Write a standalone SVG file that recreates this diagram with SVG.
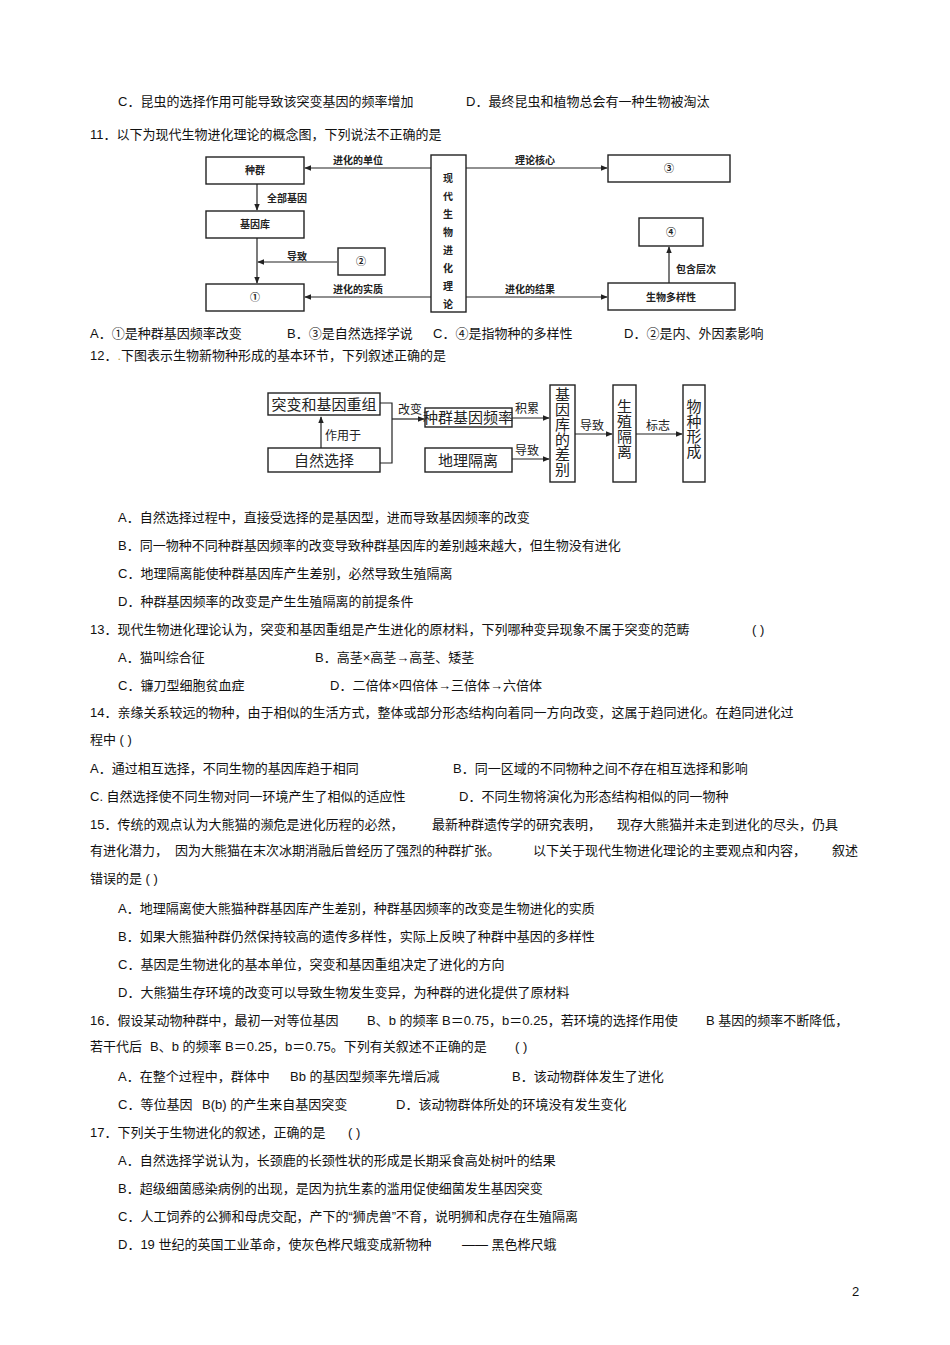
<svg xmlns="http://www.w3.org/2000/svg" width="950" height="1345" viewBox="0 0 950 1345">
<defs>
<marker id="ar" viewBox="0 0 10 10" refX="9" refY="5" markerWidth="6" markerHeight="6" orient="auto"><path d="M0,1 L10,5 L0,9 z" fill="#222"/></marker>
<style>
.t{font-family:"Liberation Sans","Noto Sans CJK SC",sans-serif;font-size:13px;fill:#111}
.b{fill:#fff;stroke:#222;stroke-width:1.4}
.l1{font-family:"Noto Sans CJK SC",sans-serif;font-size:10px;font-weight:bold;fill:#222}
.l2{font-family:"Liberation Serif","Noto Sans CJK SC",serif;font-size:15px;fill:#222}
.s2{font-family:"Liberation Serif","Noto Sans CJK SC",serif;font-size:12px;fill:#222}
.c{fill:none;stroke:#222;stroke-width:1.2}
</style>
</defs>
<rect width="950" height="1345" fill="#fff"/>
<g class="t">
<text x="118" y="106">C．昆虫的选择作用可能导致该突变基因的频率增加</text><text x="466" y="106">D．最终昆虫和植物总会有一种生物被淘汰</text>
<text x="90" y="139">11．以下为现代生物进化理论的概念图，下列说法不正确的是</text>
<text x="90" y="338">A．①是种群基因频率改变</text><text x="287" y="338">B．③是自然选择学说</text><text x="433" y="338">C．④是指物种的多样性</text><text x="624" y="338">D．②是内、外因素影响</text>
<text x="90" y="360">12．<tspan fill="#c9a13a">.</tspan>下图表示生物新物种形成的基本环节，下列叙述正确的是</text>
<text x="118" y="522">A．自然选择过程中，直接受选择的是基因型，进而导致基因频率的改变</text>
<text x="118" y="550">B．同一物种不同种群基因频率的改变导致种群基因库的差别越来越大，但生物没有进化</text>
<text x="118" y="578">C．地理隔离能使种群基因库产生差别，必然导致生殖隔离</text>
<text x="118" y="606">D．种群基因频率的改变是产生生殖隔离的前提条件</text>
<text x="90" y="634">13．现代生物进化理论认为，突变和基因重组是产生进化的原材料，下列哪种变异现象不属于突变的范畴</text><text x="752" y="634">(      )</text>
<text x="118" y="662">A．猫叫综合征</text><text x="315" y="662">B．高茎×高茎→高茎、矮茎</text>
<text x="118" y="690">C．镰刀型细胞贫血症</text><text x="330" y="690">D．二倍体×四倍体→三倍体→六倍体</text>
<text x="90" y="717">14．亲缘关系较远的物种，由于相似的生活方式，整体或部分形态结构向着同一方向改变，这属于趋同进化。在趋同进化过</text>
<text x="90" y="744">程中 (      )</text>
<text x="90" y="773">A．通过相互选择，不同生物的基因库趋于相同</text><text x="453" y="773">B．同一区域的不同物种之间不存在相互选择和影响</text>
<text x="90" y="801">C. 自然选择使不同生物对同一环境产生了相似的适应性</text><text x="459" y="801">D．不同生物将演化为形态结构相似的同一物种</text>
<text x="90" y="829">15．传统的观点认为大熊猫的濒危是进化历程的必然，</text><text x="432" y="829">最新种群遗传学的研究表明，</text><text x="617" y="829">现存大熊猫并未走到进化的尽头，仍具</text>
<text x="90" y="855">有进化潜力，</text><text x="175" y="855">因为大熊猫在末次冰期消融后曾经历了强烈的种群扩张。</text><text x="533" y="855">以下关于现代生物进化理论的主要观点和内容，</text><text x="832" y="855">叙述</text>
<text x="90" y="883">错误的是 (      )</text>
<text x="118" y="913">A．地理隔离使大熊猫种群基因库产生差别，种群基因频率的改变是生物进化的实质</text>
<text x="118" y="941">B．如果大熊猫种群仍然保持较高的遗传多样性，实际上反映了种群中基因的多样性</text>
<text x="118" y="969">C．基因是生物进化的基本单位，突变和基因重组决定了进化的方向</text>
<text x="118" y="997">D．大熊猫生存环境的改变可以导致生物发生变异，为种群的进化提供了原材料</text>
<text x="90" y="1025">16．假设某动物种群中，最初一对等位基因</text><text x="367" y="1025">B、b 的频率 B＝0.75，b＝0.25，若环境的选择作用使</text><text x="706" y="1025">B 基因的频率不断降低，</text>
<text x="90" y="1051">若干代后</text><text x="150" y="1051">B、b 的频率 B＝0.25，b＝0.75。下列有关叙述不正确的是</text><text x="515" y="1051">(      )</text>
<text x="118" y="1081">A．在整个过程中，群体中</text><text x="290" y="1081">Bb 的基因型频率先增后减</text><text x="512" y="1081">B．该动物群体发生了进化</text>
<text x="118" y="1109">C．等位基因</text><text x="202" y="1109">B(b) 的产生来自基因突变</text><text x="396" y="1109">D．该动物群体所处的环境没有发生变化</text>
<text x="90" y="1137">17．下列关于生物进化的叙述，正确的是</text><text x="348" y="1137">(      )</text>
<text x="118" y="1165">A．自然选择学说认为，长颈鹿的长颈性状的形成是长期采食高处树叶的结果</text>
<text x="118" y="1193">B．超级细菌感染病例的出现，是因为抗生素的滥用促使细菌发生基因突变</text>
<text x="118" y="1221">C．人工饲养的公狮和母虎交配，产下的“狮虎兽”不育，说明狮和虎存在生殖隔离</text>
<text x="118" y="1249">D．19 世纪的英国工业革命，使灰色桦尺蛾变成新物种</text><text x="462" y="1249">—— 黑色桦尺蛾</text>
<text x="852" y="1296">2</text>
</g>
<!-- Diagram 1 -->
<g id="d1-connectors" class="c">
<line x1="431" y1="168" x2="305" y2="168" marker-end="url(#ar)"/>
<line x1="466" y1="168" x2="607" y2="168" marker-end="url(#ar)"/>
<line x1="431" y1="297" x2="305" y2="297" marker-end="url(#ar)"/>
<line x1="466" y1="297" x2="607" y2="297" marker-end="url(#ar)"/>
<line x1="257" y1="184" x2="257" y2="210" marker-end="url(#ar)"/>
<line x1="257" y1="238" x2="257" y2="283" marker-end="url(#ar)"/>
<line x1="337" y1="262" x2="258" y2="262" marker-end="url(#ar)"/>
<line x1="669" y1="283" x2="669" y2="247" marker-end="url(#ar)"/>
</g>
<g class="l1">
<text x="333" y="164">进化的单位</text><text x="515" y="164">理论核心</text>
<text x="333" y="293">进化的实质</text><text x="505" y="293">进化的结果</text>
<text x="267" y="202">全部基因</text><text x="287" y="260">导致</text><text x="676" y="273">包含层次</text>
</g>
<g id="n-zq"><rect class="b" x="206" y="157" width="98" height="27"/><text class="l1" x="255" y="174" text-anchor="middle">种群</text></g>
<g id="n-jyk"><rect class="b" x="206" y="211" width="98" height="27"/><text class="l1" x="255" y="228" text-anchor="middle">基因库</text></g>
<g id="n-1"><rect class="b" x="206" y="284" width="98" height="27"/><text class="l1" x="255" y="301" text-anchor="middle">①</text></g>
<g id="n-2"><rect class="b" x="338" y="248" width="47" height="27"/><text class="l1" x="361" y="265" text-anchor="middle">②</text></g>
<g id="n-center"><rect class="b" x="431" y="155" width="35" height="157"/>
<text class="l1" x="448" text-anchor="middle"><tspan x="448" y="182">现</tspan><tspan x="448" y="200">代</tspan><tspan x="448" y="218">生</tspan><tspan x="448" y="236">物</tspan><tspan x="448" y="254">进</tspan><tspan x="448" y="272">化</tspan><tspan x="448" y="290">理</tspan><tspan x="448" y="308">论</tspan></text></g>
<g id="n-3"><rect class="b" x="608" y="155" width="122" height="27"/><text class="l1" x="669" y="172" text-anchor="middle">③</text></g>
<g id="n-4"><rect class="b" x="639" y="218" width="64" height="28"/><text class="l1" x="671" y="236" text-anchor="middle">④</text></g>
<g id="n-dyx"><rect class="b" x="608" y="283" width="127" height="27"/><text class="l1" x="671" y="301" text-anchor="middle">生物多样性</text></g>
<!-- Diagram 2 -->
<g id="d2-connectors" class="c">
<line x1="321" y1="448" x2="321" y2="417" marker-end="url(#ar)"/>
<polyline points="380,403 392,403 392,463 380,463"/>
<line x1="392" y1="419" x2="424" y2="419" marker-end="url(#ar)"/>
<line x1="512" y1="418" x2="549" y2="418" marker-end="url(#ar)"/>
<line x1="512" y1="459" x2="549" y2="459" marker-end="url(#ar)"/>
<line x1="575" y1="434" x2="612" y2="434" marker-end="url(#ar)"/>
<line x1="632" y1="434" x2="682" y2="434" marker-end="url(#ar)"/>
</g>
<g class="s2"><text x="325" y="440">作用于</text><text x="398" y="414">改变</text><text x="515" y="413">积累</text><text x="515" y="455">导致</text><text x="580" y="430">导致</text><text x="646" y="430">标志</text></g>
<g id="m-tb"><rect class="b" x="268" y="393" width="112" height="22"/><text class="l2" x="324" y="410" text-anchor="middle">突变和基因重组</text></g>
<g id="m-zr"><rect class="b" x="268" y="448" width="112" height="24"/><text class="l2" x="324" y="466" text-anchor="middle">自然选择</text></g>
<g id="m-pl"><rect class="b" x="425" y="408" width="87" height="19"/><text class="l2" x="468" y="423" text-anchor="middle">种群基因频率</text></g>
<g id="m-dl"><rect class="b" x="425" y="448" width="87" height="24"/><text class="l2" x="468" y="466" text-anchor="middle">地理隔离</text></g>
<g id="m-cb"><rect class="b" x="550" y="385" width="25" height="97"/><text class="l2" x="562.5" text-anchor="middle"><tspan x="562.5" y="400">基</tspan><tspan x="562.5" y="415">因</tspan><tspan x="562.5" y="430">库</tspan><tspan x="562.5" y="445">的</tspan><tspan x="562.5" y="460">差</tspan><tspan x="562.5" y="475">别</tspan></text></g>
<g id="m-sz"><rect class="b" x="613" y="385" width="23" height="97"/><text class="l2" x="624.5" text-anchor="middle"><tspan x="624.5" y="412">生</tspan><tspan x="624.5" y="427">殖</tspan><tspan x="624.5" y="442">隔</tspan><tspan x="624.5" y="457">离</tspan></text></g>
<g id="m-wz"><rect class="b" x="683" y="385" width="22" height="97"/><text class="l2" x="694" text-anchor="middle"><tspan x="694" y="412">物</tspan><tspan x="694" y="427">种</tspan><tspan x="694" y="442">形</tspan><tspan x="694" y="457">成</tspan></text></g>
</svg>
